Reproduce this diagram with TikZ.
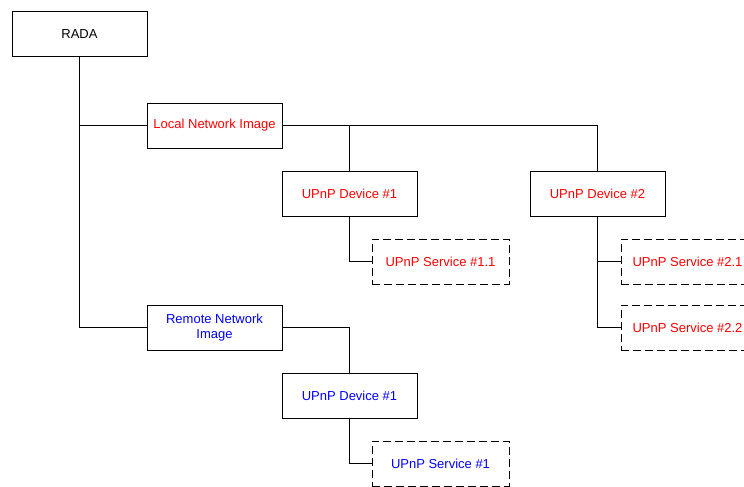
\documentclass[tikz,border=0pt]{standalone}
\usepackage{fontspec}
\setmainfont{Liberation Sans}
\definecolor{redtxt}{RGB}{255,0,0}
\definecolor{bluetxt}{RGB}{0,0,255}
\begin{document}
\begin{tikzpicture}[x=1pt,y=-1pt,
  box/.style={draw=black,line width=1pt,minimum width=135pt,minimum height=45pt,inner sep=0pt,font=\fontsize{13}{15}\selectfont,align=center},
  dbox/.style={box,minimum width=137pt,dash pattern=on 8pt off 4pt},
  conn/.style={line width=1pt}]
\useasboundingbox (0,0) rectangle (744,487);
\node[box] (rada) at (79.5,34.5) {RADA};
\node[box,text=redtxt] (lni) at (214.5,125.5) {Local Network Image};
\node[box,text=redtxt] (d1) at (349.5,193.5) {UPnP Device \#1};
\node[box,text=redtxt] (d2) at (597.5,193.5) {UPnP Device \#2};
\node[dbox,text=redtxt] (s11) at (440.5,261.5) {UPnP Service \#1.1};
\node[dbox,text=redtxt] (s21) at (689.5,261.5) {\hspace*{-4pt}UPnP Service \#2.1};
\node[dbox,text=redtxt] (s22) at (689.5,327.5) {\hspace*{-4pt}UPnP Service \#2.2};
\node[box,text=bluetxt] (rni) at (214.5,327.5) {Remote Network\\Image};
\node[box,text=bluetxt] (bd1) at (349.5,395.5) {UPnP Device \#1};
\node[dbox,text=bluetxt] (bs1) at (440.5,463.5) {UPnP Service \#1};
\coordinate (jl) at (rada.south |- lni.west);
\draw[conn] (rada.south) |- (rni.west);
\draw[conn] (jl) -- (lni.west);
\draw[conn] (lni.east) -| (d2.north);
\draw[conn] (d1.north |- lni.east) -- (d1.north);
\draw[conn] (d1.south) |- (s11.west);
\draw[conn] (d2.south) |- (s22.west);
\draw[conn] (d2.south |- s21.west) -- (s21.west);
\draw[conn] (rni.east) -| (bd1.north);
\draw[conn] (bd1.south) |- (bs1.west);
\end{tikzpicture}
\end{document}
